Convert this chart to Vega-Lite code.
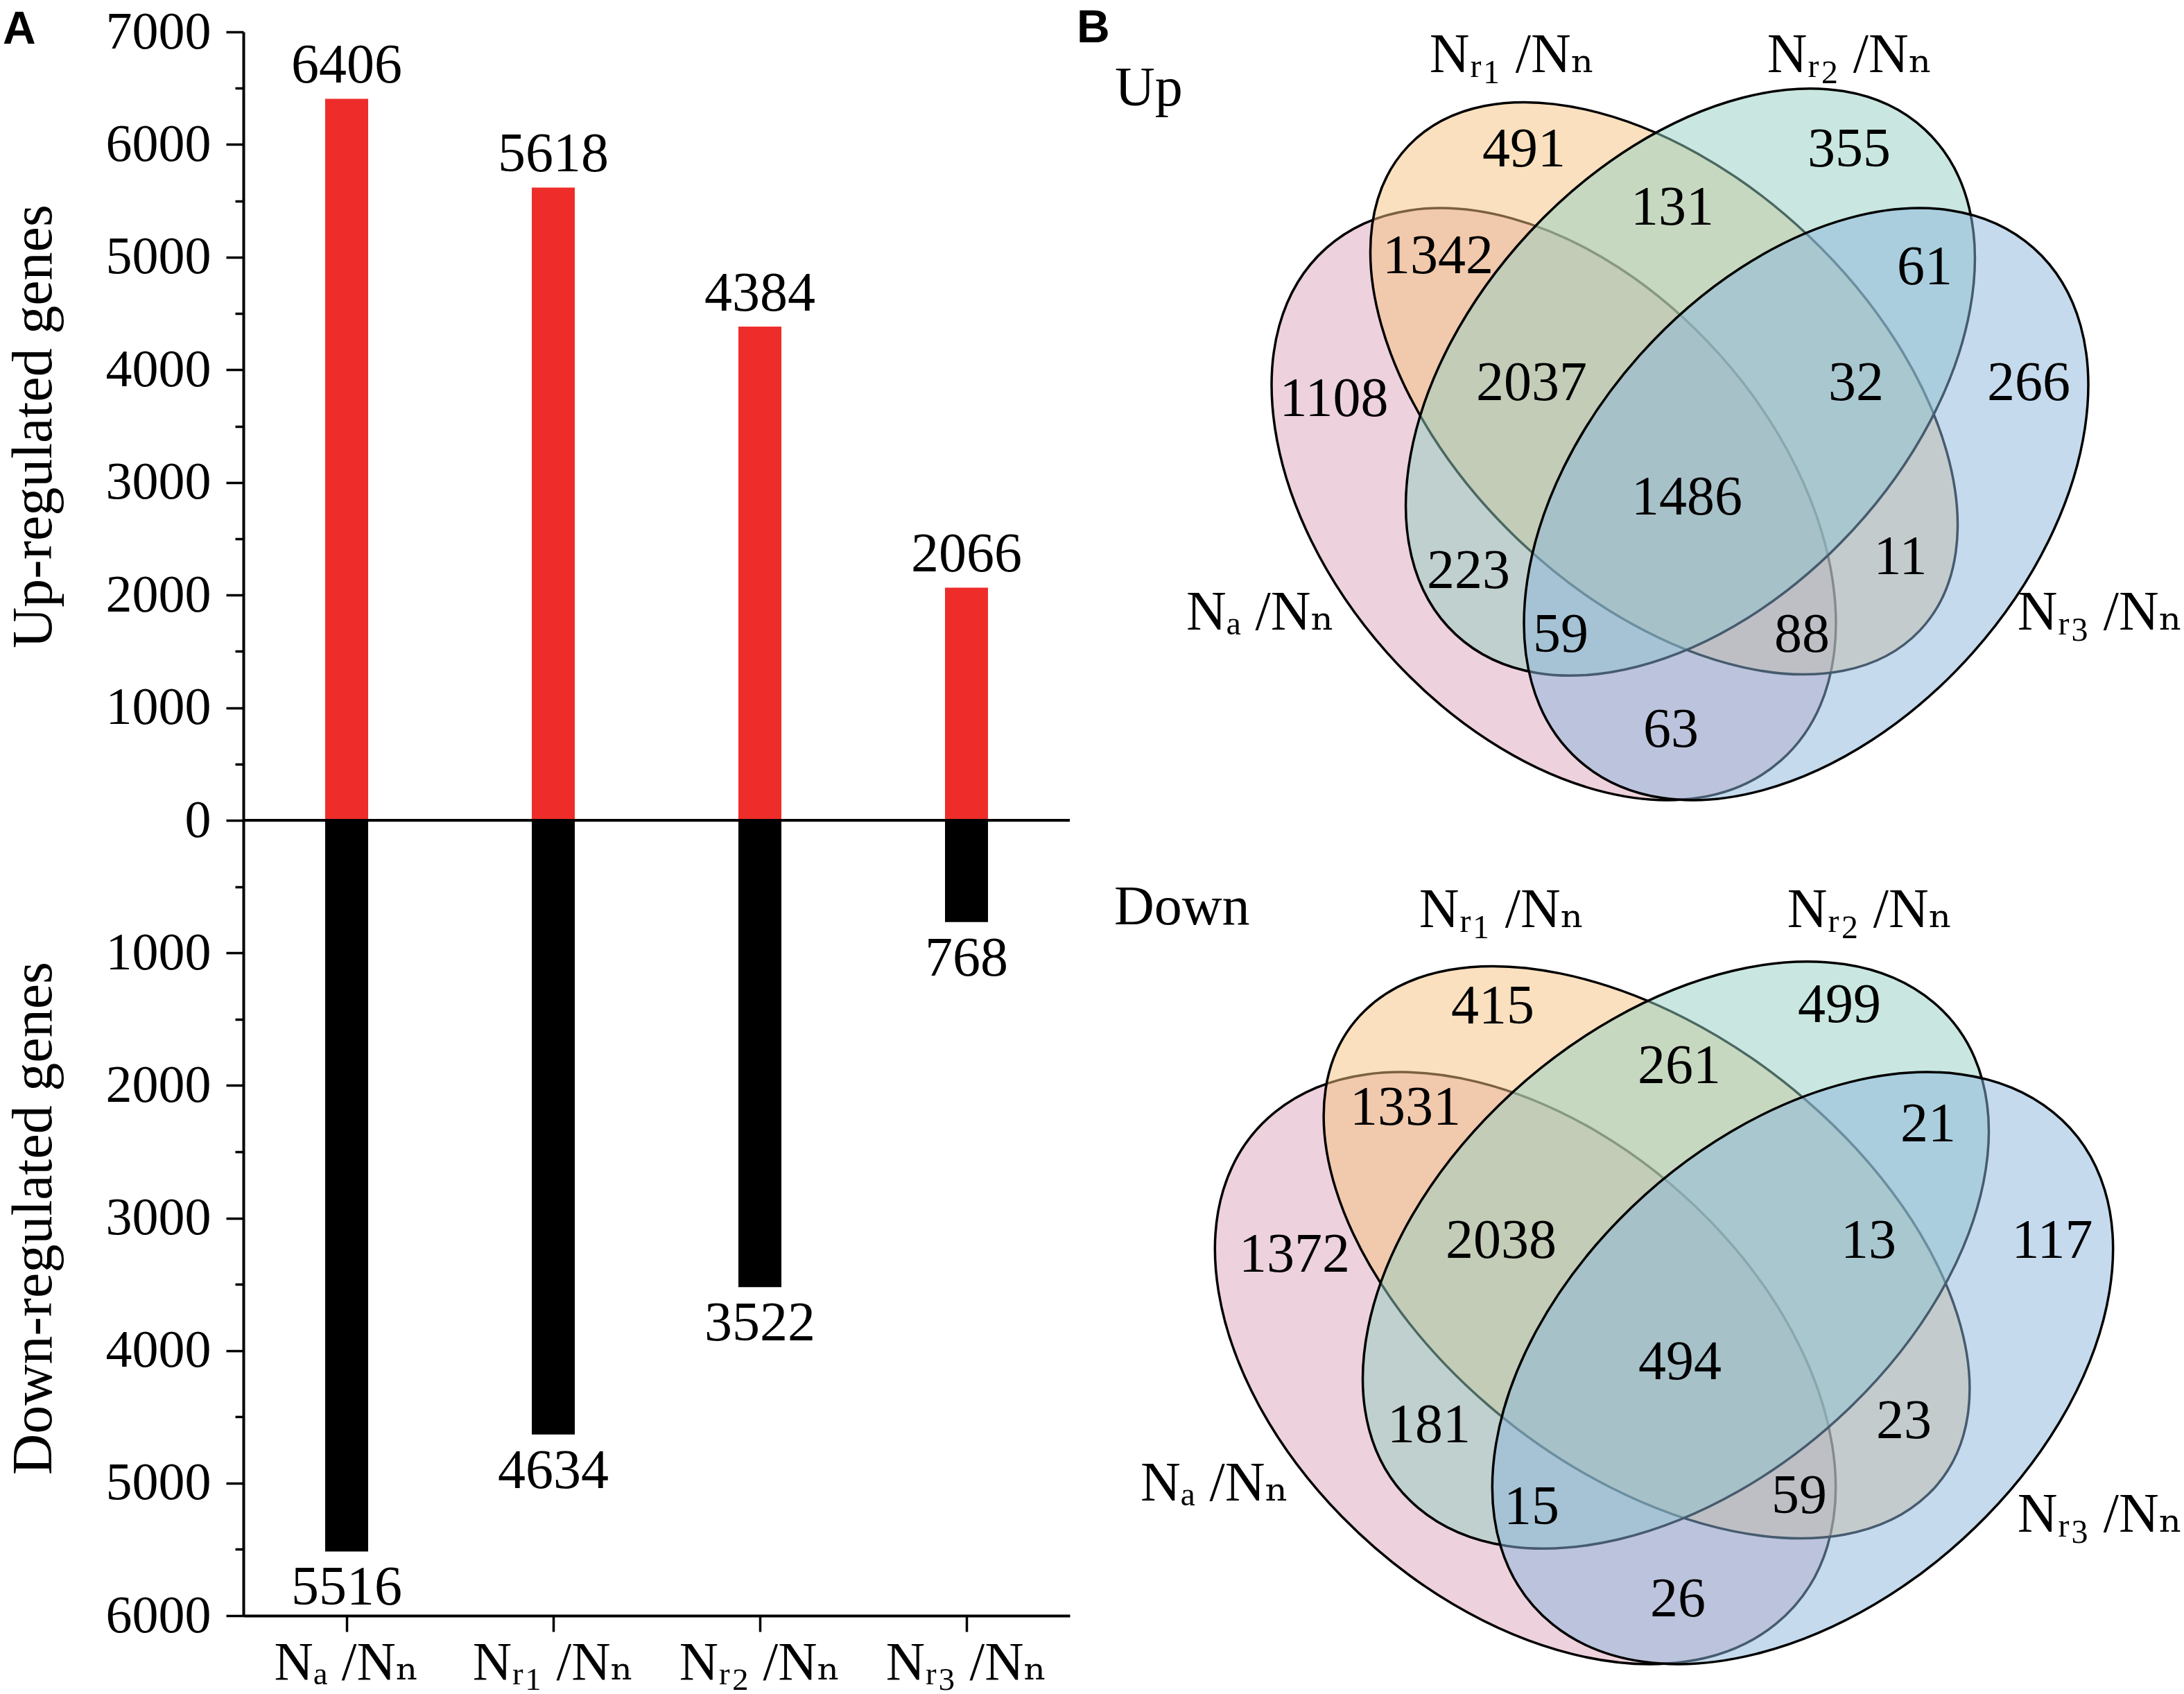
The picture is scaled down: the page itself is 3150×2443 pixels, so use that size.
{
  "$schema": "https://vega.github.io/schema/vega-lite/v6.json",
  "width": 1192,
  "height": 2284,
  "autosize": {"type": "none"},
  "padding": {"left": 351, "top": 46, "right": 1607, "bottom": 113},
  "background": "white",
  "config": {
    "view": {"stroke": null},
    "font": "Liberation Serif",
    "text": {"font": "Liberation Serif"},
    "axis": {"grid": false, "domainColor": "black", "domainWidth": 4, "tickColor": "black", "tickWidth": 3.5, "labelColor": "black", "labelFont": "Liberation Serif", "titleFont": "Liberation Serif", "titleColor": "black", "titleFontWeight": "normal", "labelLimit": 500}
  },
  "datasets": {
    "bars": [
      {"cat": "Nₐ /Nₙ", "up": 6406, "down": 5516},
      {"cat": "Nᵣ₁ /Nₙ", "up": 5618, "down": 4634},
      {"cat": "Nᵣ₂ /Nₙ", "up": 4384, "down": 3522},
      {"cat": "Nᵣ₃ /Nₙ", "up": 2066, "down": 768}
    ],
    "ellipses": [
      {"panel": "Up", "set": "A", "vx": -1.82, "vy": 0},
      {"panel": "Up", "set": "B", "vx": -0.23, "vy": -1.67},
      {"panel": "Up", "set": "C", "vx": 0.15, "vy": -1.76},
      {"panel": "Up", "set": "D", "vx": 1.82, "vy": 0},
      {"panel": "Down", "set": "A", "vx": -2.0, "vy": 0},
      {"panel": "Down", "set": "B", "vx": -0.25, "vy": -1.67},
      {"panel": "Down", "set": "C", "vx": 0.17, "vy": -1.63},
      {"panel": "Down", "set": "D", "vx": 2.0, "vy": 0}
    ],
    "regions": [
      {"panel": "Up", "n": 491, "vx": -2.25, "vy": -5.11},
      {"panel": "Up", "n": 355, "vx": 2.44, "vy": -5.11},
      {"panel": "Up", "n": 131, "vx": -0.11, "vy": -4.27},
      {"panel": "Up", "n": 1342, "vx": -3.49, "vy": -3.57},
      {"panel": "Up", "n": 61, "vx": 3.53, "vy": -3.41},
      {"panel": "Up", "n": 1108, "vx": -4.99, "vy": -1.51},
      {"panel": "Up", "n": 2037, "vx": -2.14, "vy": -1.74},
      {"panel": "Up", "n": 32, "vx": 2.54, "vy": -1.74},
      {"panel": "Up", "n": 266, "vx": 5.03, "vy": -1.74},
      {"panel": "Up", "n": 1486, "vx": 0.1, "vy": -0.09},
      {"panel": "Up", "n": 223, "vx": -3.05, "vy": 0.97},
      {"panel": "Up", "n": 11, "vx": 3.18, "vy": 0.77},
      {"panel": "Up", "n": 59, "vx": -1.72, "vy": 1.89},
      {"panel": "Up", "n": 88, "vx": 1.76, "vy": 1.89},
      {"panel": "Up", "n": 63, "vx": -0.13, "vy": 3.26},
      {"panel": "Down", "n": 415, "vx": -2.47, "vy": -5.21},
      {"panel": "Down", "n": 499, "vx": 2.53, "vy": -5.23},
      {"panel": "Down", "n": 261, "vx": 0.22, "vy": -4.35},
      {"panel": "Down", "n": 1331, "vx": -3.73, "vy": -3.75},
      {"panel": "Down", "n": 21, "vx": 3.81, "vy": -3.51},
      {"panel": "Down", "n": 1372, "vx": -5.33, "vy": -1.63},
      {"panel": "Down", "n": 2038, "vx": -2.35, "vy": -1.83},
      {"panel": "Down", "n": 13, "vx": 2.95, "vy": -1.83},
      {"panel": "Down", "n": 117, "vx": 5.6, "vy": -1.83},
      {"panel": "Down", "n": 494, "vx": 0.23, "vy": -0.08},
      {"panel": "Down", "n": 181, "vx": -3.39, "vy": 0.83},
      {"panel": "Down", "n": 23, "vx": 3.46, "vy": 0.77},
      {"panel": "Down", "n": 15, "vx": -1.91, "vy": 2.01},
      {"panel": "Down", "n": 59, "vx": 1.95, "vy": 1.85},
      {"panel": "Down", "n": 26, "vx": 0.2, "vy": 3.34}
    ],
    "setlabels": [
      {"panel": "Up", "label": "Nᵣ₁ /Nₙ", "vx": -2.42, "vy": -6.47},
      {"panel": "Up", "label": "Nᵣ₂ /Nₙ", "vx": 2.45, "vy": -6.47},
      {"panel": "Up", "label": "Nₐ /Nₙ", "vx": -6.05, "vy": 1.57},
      {"panel": "Up", "label": "Nᵣ₃ /Nₙ", "vx": 6.06, "vy": 1.57},
      {"panel": "Down", "label": "Nᵣ₁ /Nₙ", "vx": -2.34, "vy": -6.6},
      {"panel": "Down", "label": "Nᵣ₂ /Nₙ", "vx": 2.97, "vy": -6.6},
      {"panel": "Down", "label": "Nₐ /Nₙ", "vx": -6.48, "vy": 1.67},
      {"panel": "Down", "label": "Nᵣ₃ /Nₙ", "vx": 6.29, "vy": 2.12}
    ],
    "notes": [
      {"panel": "Up", "label": "Up", "vx": -8.15, "vy": -5.75},
      {"panel": "Down", "label": "Down", "vx": -7.93, "vy": -6.4}
    ],
    "letters": [
      {"label": "A", "vx": -24.19, "vy": -6.64},
      {"label": "B", "vx": -8.7, "vy": -6.66}
    ]
  },
  "layer": [
    {
      "data": {"name": "bars"},
      "layer": [
        {
          "mark": {"type": "bar", "color": "#ee2d2a", "width": 62},
          "encoding": {
            "x": {"field": "cat", "type": "nominal", "sort": null, "scale": {"type": "band", "range": [0, 1192], "paddingInner": 0, "paddingOuter": 0}, "axis": null},
            "y": {"field": "up", "type": "quantitative", "scale": {"domain": [0, 7000], "range": [1137, 0], "nice": false, "zero": true},
              "axis": {"orient": "left", "values": [0, 1000, 2000, 3000, 4000, 5000, 6000, 7000], "format": "d", "tickSize": 25, "labelFontSize": 76, "labelPadding": 22, "title": "Up-regulated genes", "titleFontSize": 82, "titlePadding": 62}}
          }
        },
        {
          "mark": {"type": "text", "font": "Liberation Serif", "fontSize": 80, "dy": -23, "baseline": "alphabetic", "align": "center", "color": "black"},
          "encoding": {
            "x": {"field": "cat", "type": "nominal", "sort": null},
            "y": {"field": "up", "type": "quantitative"},
            "text": {"field": "up", "type": "quantitative", "format": "d"}
          }
        },
        {
          "mark": {"type": "rule", "strokeWidth": 4, "color": "black"},
          "encoding": {"y": {"datum": 0, "type": "quantitative"}}
        }
      ]
    },
    {
      "data": {"name": "bars"},
      "mark": {"type": "point", "opacity": 0},
      "encoding": {
        "y": {"field": "up", "type": "quantitative", "scale": {"domain": [0, 7000], "range": [1137, 0], "nice": false},
          "axis": {"orient": "left", "values": [500, 1500, 2500, 3500, 4500, 5500, 6500], "labels": false, "domain": false, "tickSize": 12, "title": null}}
      }
    },
    {
      "data": {"name": "bars"},
      "layer": [
        {
          "mark": {"type": "bar", "color": "black", "width": 62},
          "encoding": {
            "x": {"field": "cat", "type": "nominal", "sort": null, "scale": {"type": "band", "range": [0, 1192], "paddingInner": 0, "paddingOuter": 0},
              "axis": {"orient": "bottom", "title": null, "labelAngle": 0, "labelFontSize": 78, "labelFont": "Liberation Serif, DejaVu Serif", "labelLimit": 600, "tickSize": 23, "labelPadding": 6}},
            "y": {"field": "down", "type": "quantitative", "scale": {"domain": [0, 6000], "range": [1137, 2284], "nice": false, "zero": true},
              "axis": {"orient": "left", "values": [1000, 2000, 3000, 4000, 5000, 6000], "format": "d", "tickSize": 25, "labelFontSize": 76, "labelPadding": 22, "title": "Down-regulated genes", "titleFontSize": 82, "titlePadding": 62}}
          }
        },
        {
          "mark": {"type": "text", "font": "Liberation Serif", "fontSize": 80, "dy": 77, "baseline": "alphabetic", "align": "center", "color": "black"},
          "encoding": {
            "x": {"field": "cat", "type": "nominal", "sort": null},
            "y": {"field": "down", "type": "quantitative"},
            "text": {"field": "down", "type": "quantitative", "format": "d"}
          }
        }
      ]
    },
    {
      "data": {"name": "bars"},
      "mark": {"type": "point", "opacity": 0},
      "encoding": {
        "y": {"field": "down", "type": "quantitative", "scale": {"domain": [0, 6000], "range": [1137, 2284], "nice": false},
          "axis": {"orient": "left", "values": [500, 1500, 2500, 3500, 4500, 5500], "labels": false, "domain": false, "tickSize": 12, "title": null}}
      }
    },
    {
      "layer": [
        {
          "data": {"name": "ellipses"},
          "transform": [{"filter": "datum.panel === 'Up'"}],
          "mark": {"type": "point", "filled": true, "opacity": 1, "fillOpacity": 0.5, "stroke": "black", "strokeWidth": 3.5, "strokeOpacity": 1, "size": 40000},
          "encoding": {
            "x": {"field": "vx", "type": "quantitative", "scale": {"domain": [-6, 6], "range": [1472, 2672], "nice": false, "zero": false}, "axis": null},
            "y": {"field": "vy", "type": "quantitative", "scale": {"domain": [-6, 6], "range": [81, 1281], "nice": false, "zero": false}, "axis": null},
            "shape": {"field": "set", "type": "nominal", "legend": null, "scale": {"domain": ["A", "B", "C", "D"], "range": [
              "M 3.280 3.694 C 1.950 4.875 -0.597 4.178 -2.408 2.138 C -4.219 0.098 -4.610 -2.513 -3.280 -3.694 C -1.950 -4.875 0.597 -4.178 2.408 -2.138 C 4.219 -0.098 4.610 2.513 3.280 3.694 Z",
              "M 3.691 3.491 C 2.542 4.707 -0.061 4.119 -2.082 2.202 C -4.103 0.285 -4.841 -2.275 -3.691 -3.491 C -2.542 -4.707 0.061 -4.119 2.082 -2.202 C 4.103 -0.285 4.841 2.275 3.691 3.491 Z",
              "M -3.383 3.641 C -2.101 4.832 0.454 4.168 2.322 2.158 C 4.190 0.147 4.666 -2.449 3.383 -3.641 C 2.101 -4.832 -0.454 -4.168 -2.322 -2.158 C -4.190 -0.147 -4.666 2.449 -3.383 3.641 Z",
              "M -3.280 3.694 C -1.950 4.875 0.597 4.178 2.408 2.138 C 4.219 0.098 4.610 -2.513 3.280 -3.694 C 1.950 -4.875 -0.597 -4.178 -2.408 -2.138 C -4.219 -0.098 -4.610 2.513 -3.280 3.694 Z"
            ]}},
            "fill": {"field": "set", "type": "nominal", "legend": null, "scale": {"domain": ["A", "B", "C", "D"], "range": ["#dba3b9", "#f5c17e", "#93cfc1", "#8bb5dc"]}}
          }
        },
        {
          "data": {"name": "regions"},
          "transform": [{"filter": "datum.panel === 'Up'"}],
          "mark": {"type": "text", "font": "Liberation Serif", "fontSize": 80, "baseline": "middle", "align": "center", "color": "black"},
          "encoding": {
            "x": {"field": "vx", "type": "quantitative"},
            "y": {"field": "vy", "type": "quantitative"},
            "text": {"field": "n", "type": "quantitative", "format": "d"}
          }
        },
        {
          "data": {"name": "setlabels"},
          "transform": [{"filter": "datum.panel === 'Up'"}],
          "mark": {"type": "text", "fontSize": 80, "baseline": "middle", "align": "center", "color": "black", "font": "Liberation Serif, DejaVu Serif"},
          "encoding": {
            "x": {"field": "vx", "type": "quantitative"},
            "y": {"field": "vy", "type": "quantitative"},
            "text": {"field": "label", "type": "nominal"}
          }
        },
        {
          "data": {"name": "notes"},
          "transform": [{"filter": "datum.panel === 'Up'"}],
          "mark": {"type": "text", "font": "Liberation Serif", "fontSize": 80, "baseline": "alphabetic", "align": "left", "color": "black"},
          "encoding": {
            "x": {"field": "vx", "type": "quantitative"},
            "y": {"field": "vy", "type": "quantitative"},
            "text": {"field": "label", "type": "nominal"}
          }
        },
        {
          "data": {"name": "letters"},
          "mark": {"type": "text", "fontSize": 66, "baseline": "alphabetic", "align": "left", "color": "black", "font": "Liberation Sans", "fontWeight": "bold"},
          "encoding": {
            "x": {"field": "vx", "type": "quantitative"},
            "y": {"field": "vy", "type": "quantitative"},
            "text": {"field": "label", "type": "nominal"}
          }
        }
      ]
    },
    {
      "layer": [
        {
          "data": {"name": "ellipses"},
          "transform": [{"filter": "datum.panel === 'Down'"}],
          "mark": {"type": "point", "filled": true, "opacity": 1, "fillOpacity": 0.5, "stroke": "black", "strokeWidth": 3.5, "strokeOpacity": 1, "size": 40000},
          "encoding": {
            "x": {"field": "vx", "type": "quantitative", "scale": {"domain": [-6, 6], "range": [1449, 2649], "nice": false, "zero": false}, "axis": null},
            "y": {"field": "vy", "type": "quantitative", "scale": {"domain": [-6, 6], "range": [1327, 2527], "nice": false, "zero": false}, "axis": null},
            "shape": {"field": "set", "type": "nominal", "legend": null, "scale": {"domain": ["A", "B", "C", "D"], "range": [
              "M 3.608 3.694 C 2.145 4.875 -0.657 4.178 -2.649 2.138 C -4.641 0.098 -5.071 -2.513 -3.608 -3.694 C -2.145 -4.875 0.657 -4.178 2.649 -2.138 C 4.641 -0.098 5.071 2.513 3.608 3.694 Z",
              "M 4.060 3.491 C 2.796 4.707 -0.067 4.119 -2.290 2.202 C -4.513 0.285 -5.325 -2.275 -4.060 -3.491 C -2.796 -4.707 0.067 -4.119 2.290 -2.202 C 4.513 -0.285 5.325 2.275 4.060 3.491 Z",
              "M -3.721 3.641 C -2.311 4.832 0.499 4.168 2.554 2.158 C 4.609 0.147 5.133 -2.449 3.721 -3.641 C 2.311 -4.832 -0.499 -4.168 -2.554 -2.158 C -4.609 -0.147 -5.133 2.449 -3.721 3.641 Z",
              "M -3.608 3.694 C -2.145 4.875 0.657 4.178 2.649 2.138 C 4.641 0.098 5.071 -2.513 3.608 -3.694 C 2.145 -4.875 -0.657 -4.178 -2.649 -2.138 C -4.641 -0.098 -5.071 2.513 -3.608 3.694 Z"
            ]}},
            "fill": {"field": "set", "type": "nominal", "legend": null, "scale": {"domain": ["A", "B", "C", "D"], "range": ["#dba3b9", "#f5c17e", "#93cfc1", "#8bb5dc"]}}
          }
        },
        {
          "data": {"name": "regions"},
          "transform": [{"filter": "datum.panel === 'Down'"}],
          "mark": {"type": "text", "font": "Liberation Serif", "fontSize": 80, "baseline": "middle", "align": "center", "color": "black"},
          "encoding": {
            "x": {"field": "vx", "type": "quantitative"},
            "y": {"field": "vy", "type": "quantitative"},
            "text": {"field": "n", "type": "quantitative", "format": "d"}
          }
        },
        {
          "data": {"name": "setlabels"},
          "transform": [{"filter": "datum.panel === 'Down'"}],
          "mark": {"type": "text", "fontSize": 80, "baseline": "middle", "align": "center", "color": "black", "font": "Liberation Serif, DejaVu Serif"},
          "encoding": {
            "x": {"field": "vx", "type": "quantitative"},
            "y": {"field": "vy", "type": "quantitative"},
            "text": {"field": "label", "type": "nominal"}
          }
        },
        {
          "data": {"name": "notes"},
          "transform": [{"filter": "datum.panel === 'Down'"}],
          "mark": {"type": "text", "font": "Liberation Serif", "fontSize": 80, "baseline": "alphabetic", "align": "left", "color": "black"},
          "encoding": {
            "x": {"field": "vx", "type": "quantitative"},
            "y": {"field": "vy", "type": "quantitative"},
            "text": {"field": "label", "type": "nominal"}
          }
        }
      ]
    }
  ],
  "resolve": {
    "scale": {"x": "independent", "y": "independent", "shape": "independent", "fill": "independent"},
    "axis": {"x": "independent", "y": "independent"}
  }
}
